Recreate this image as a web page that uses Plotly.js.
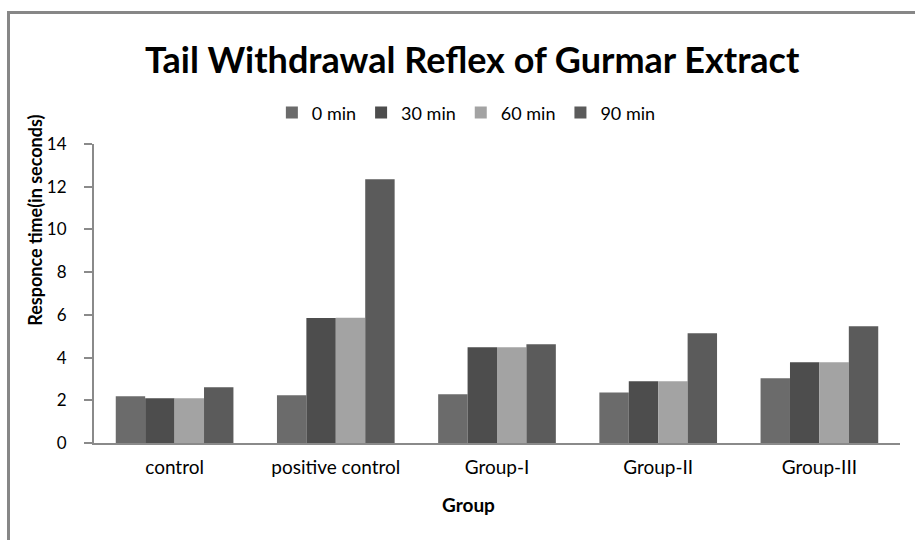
<!DOCTYPE html>
<html>
<head>
<meta charset="utf-8">
<script src="https://cdn.plot.ly/plotly-3.0.1.min.js"></script>
<style>
  html, body { margin: 0; padding: 0; background: #fff; }
  #wrap { position: relative; width: 915px; height: 540px; overflow: hidden; }
  #frame { position: absolute; left: 7px; top: 11px; width: 920px; height: 540px;
           border-left: 3px solid #878787; border-top: 3px solid #878787; pointer-events: none; }
  #chart { position: absolute; left: 0; top: 0; width: 915px; height: 540px; }
</style>
</head>
<body>
<div id="wrap">
  <div id="chart"></div>
  <div id="frame"></div>
</div>
<script>
const categories = ["control", "positive control", "Group-I", "Group-II", "Group-III"];
const seriesNames = ["0 min", "30 min", "60 min", "90 min"];
const min0  = [2.19, 2.24, 2.28, 2.37, 3.03];
const min30 = [2.10, 5.85, 4.48, 2.89, 3.78];
const min60 = [2.10, 5.87, 4.48, 2.89, 3.78];
const min90 = [2.61, 12.35, 4.62, 5.14, 5.47];
const yTicks = [0, 2, 4, 6, 8, 10, 12, 14];

const seriesValues = [min0, min30, min60, min90];
const colors = ["#6b6b6b", "#4d4d4d", "#a3a3a3", "#5b5b5b"];
const FONT = "Lato, 'Open Sans', sans-serif";

const traces = seriesValues.map((vals, i) => ({
  type: "bar",
  name: seriesNames[i],
  x: categories,
  y: vals,
  marker: { color: colors[i], line: { width: 0 } },
  hoverinfo: "x+y+name"
}));

const layout = {
  width: 915, height: 540,
  paper_bgcolor: "#fff", plot_bgcolor: "#fff",
  margin: { l: 94, r: 15, t: 144, b: 97 },
  barmode: "group",
  bargap: 0.27,
  bargroupgap: 0,
  font: { family: FONT, color: "#000" },
  title: {
    text: "<b>Tail Withdrawal Reflex of Gurmar Extract</b>",
    font: { family: FONT, size: 36, color: "#000" },
    xref: "container", yref: "container",
    x: 0.516, xanchor: "center", y: 0.889, yanchor: "middle"
  },
  showlegend: true,
  legend: {
    orientation: "h",
    x: 0.462, xanchor: "center",
    y: 1.104, yanchor: "middle",
    font: { family: FONT, size: 18, color: "#000" },
    itemwidth: 30,
    traceorder: "normal"
  },
  xaxis: {
    type: "category",
    showline: true, linecolor: "#8a8a8a", linewidth: 2,
    ticks: "", showgrid: false, zeroline: false,
    ticklabelstandoff: 6,
    tickfont: { family: FONT, size: 19, color: "#000" }
  },
  yaxis: {
    range: [0, 14],
    tickvals: yTicks,
    ticktext: yTicks.map(String),
    showline: true, linecolor: "#8a8a8a", linewidth: 2,
    ticks: "outside", ticklen: 8, tickcolor: "#8a8a8a", tickwidth: 2,
    ticklabelstandoff: 14,
    showgrid: false, zeroline: false,
    tickfont: { family: FONT, size: 17, color: "#000" }
  },
  annotations: [{
    text: "<b>Responce time(in seconds)</b>",
    xref: "paper", yref: "paper",
    x: -0.0725, xanchor: "center",
    y: 0.745, yanchor: "middle",
    textangle: -90,
    showarrow: false,
    font: { family: FONT, size: 18, color: "#000" }
  }, {
    text: "<b>Group</b>",
    xref: "paper", yref: "paper",
    x: 0.465, xanchor: "center",
    y: -0.207, yanchor: "middle",
    showarrow: false,
    font: { family: FONT, size: 19, color: "#000" }
  }]
};

Plotly.newPlot("chart", traces, layout, { displayModeBar: false, staticPlot: true });
</script>
</body>
</html>
